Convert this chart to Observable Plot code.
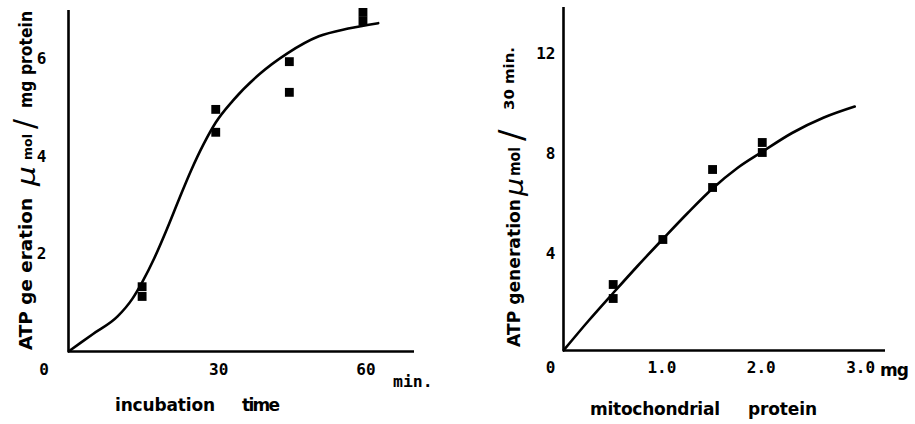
<!DOCTYPE html>
<html>
<head>
<meta charset="utf-8">
<script src="https://cdn.jsdelivr.net/npm/d3@7"></script>
<script src="https://cdn.jsdelivr.net/npm/@observablehq/plot@0.6"></script>
<style>
  html, body { margin: 0; padding: 0; background: #fff; }
  #wrap { position: relative; width: 915px; height: 424px; overflow: hidden; }
  #wrap svg { position: absolute; top: 0; }
</style>
</head>
<body>
<div id="wrap"></div>
<script>
// ---- Left panel: ATP generation vs incubation time ----
const timeMin   = [15, 15, 30, 30, 45, 45, 60, 60];
const atpTime   = [1.33, 1.13, 4.97, 4.5, 5.95, 5.32, 6.96, 6.78];
const curveTimeX = [0, 5, 10, 13, 15, 17.5, 20, 22.5, 25, 27.5, 30, 33.5, 39, 44.6, 51, 57, 63.1];
const curveTimeY = [0, 0.36, 0.72, 1.08, 1.42, 1.92, 2.5, 3.12, 3.72, 4.25, 4.7, 5.15, 5.7, 6.12, 6.47, 6.63, 6.74];
const timeTicks = [30, 60];
const atpTimeTicks = [2, 4, 6];

// ---- Right panel: ATP generation vs mitochondrial protein ----
const proteinMg = [0.5, 0.5, 1.0, 1.5, 1.5, 2.0, 2.0];
const atpProt   = [2.64, 2.08, 4.44, 7.24, 6.52, 8.32, 7.92];
const curveProtX = [0, 0.25, 0.5, 0.75, 1.0, 1.25, 1.5, 1.75, 2.0, 2.3, 2.62, 2.93];
const curveProtY = [0, 1.18, 2.3, 3.4, 4.46, 5.5, 6.48, 7.3, 7.95, 8.7, 9.32, 9.76];
const protTicks = [1, 2, 3];
const atpProtTicks = [4, 8, 12];

const SANS = "'DejaVu Sans', sans-serif";
const MONO = "'DejaVu Sans Mono', monospace";

const pts = (xs, ys) => xs.map((x, i) => ({x, y: ys[i]}));

const axisStyle = {fontFamily: MONO, fontSize: "16px", fontWeight: "bold", background: "transparent", color: "#000", overflow: "visible"};

// Left plot
const left = Plot.plot({
  width: 457, height: 424,
  marginLeft: 68, marginRight: 43, marginTop: 10, marginBottom: 73,
  style: axisStyle,
  x: {domain: [0, 70.5]},
  y: {domain: [0, 7]},
  marks: [
    Plot.ruleY([0], {stroke: "#000", strokeWidth: 2.6}),
    Plot.ruleX([0], {stroke: "#000", strokeWidth: 2.6}),
    Plot.axisX({ticks: timeTicks, tickFormat: d => String(d), tickSize: 0, tickPadding: 12, dx: 3, label: null}),
    Plot.text([0], {x: d => d, y: () => 0, text: d => String(d), lineAnchor: "top", dy: 12, dx: -24.5}),
    Plot.axisY({ticks: atpTimeTicks, tickFormat: d => String(d), tickSize: 0, tickPadding: 22, label: null}),
    Plot.line(pts(curveTimeX, curveTimeY), {x: "x", y: "y", curve: "monotone-x", stroke: "#000", strokeWidth: 2.6}),
    Plot.dot(pts(timeMin, atpTime), {x: "x", y: "y", symbol: "square", r: 5, fill: "#000", stroke: "none"})
  ]
});
left.style.left = "0px";

// Right plot
const right = Plot.plot({
  width: 458, height: 424,
  marginLeft: 106, marginRight: 30, marginTop: 7, marginBottom: 74,
  style: axisStyle,
  x: {domain: [0, 3.24]},
  y: {domain: [0, 13.72]},
  marks: [
    Plot.ruleY([0], {stroke: "#000", strokeWidth: 2.6}),
    Plot.ruleX([0], {stroke: "#000", strokeWidth: 2.6}),
    Plot.axisX({ticks: protTicks, tickFormat: d3.format(".1f"), tickSize: 0, tickPadding: 11.5, dx: -1, label: null}),
    Plot.text([0], {x: d => d, y: () => 0, text: d => String(d), lineAnchor: "top", dy: 11.5, dx: -13}),
    Plot.axisY({ticks: atpProtTicks, tickFormat: d => String(d), tickSize: 0, tickPadding: 8, dy: 3, label: null}),
    Plot.line(pts(curveProtX, curveProtY), {x: "x", y: "y", curve: "monotone-x", stroke: "#000", strokeWidth: 2.6}),
    Plot.dot(pts(proteinMg, atpProt), {x: "x", y: "y", symbol: "square", r: 5, fill: "#000", stroke: "none"})
  ]
});
right.style.left = "457px";

const wrap = document.getElementById("wrap");
wrap.appendChild(left);
wrap.appendChild(right);

// ---- Text labels ----
function addText(svg, x, y, str, opts = {}) {
  const t = d3.select(svg).append("text")
    .attr("x", x).attr("y", y)
    .attr("text-anchor", "start")
    .attr("font-family", opts.family || SANS)
    .attr("font-size", opts.size || 17)
    .attr("font-weight", "bold")
    .attr("fill", "#000")
    .text(str);
  if (opts.len) t.attr("textLength", opts.len).attr("lengthAdjust", "spacing");
  return t;
}

// rotated y label: parts given as [text, startPageY, endPageY, fontSize, shift, weight, style]
function addYLabel(svg, baseX, parts) {
  const g = d3.select(svg).append("g").attr("transform", `translate(${baseX},0) rotate(-90)`);
  for (const [s, y0, y1, size, shift, weight, fstyle] of parts) {
    const t = g.append("text")
      .attr("x", -y0).attr("y", shift || 0)
      .attr("text-anchor", "start")
      .attr("font-family", SANS)
      .attr("font-size", size)
      .attr("font-weight", weight || "bold")
      .attr("font-style", fstyle || "normal")
      .attr("fill", "#000")
      .text(s);
    if (y1 != null) t.attr("textLength", y0 - y1).attr("lengthAdjust", "spacingAndGlyphs");
  }
}

// Left panel texts
addText(left, 393, 387, "min.", {family: MONO, size: 16.5});
addText(left, 115, 411, "incubation", {size: 17, len: 100});
addText(left, 242, 411, "time", {size: 17, len: 38});
addYLabel(left, 32, [
  ["ATP ge eration", 350, 198, 17.5, 0],
  ["μ", 186, 166, 24, 3, "normal", "italic"],
  ["mol", 160, 134, 13, 0],
  ["/", 129, null, 30, 3, "normal"],
  ["mg protein", 108, 11, 17, 0]
]);

// Right panel texts (local coords = page - 457)
addText(right, 880 - 457, 376, "mg", {size: 17, len: 29});
addText(right, 590 - 457, 415, "mitochondrial", {size: 17, len: 130});
addText(right, 748 - 457, 415, "protein", {size: 17, len: 69});
addYLabel(right, 520 - 457, [
  ["ATP generation", 347, 199, 18, 0],
  ["μ", 196, 178, 24, 3, "normal", "italic"],
  ["mol", 176, 147, 15, 0],
  ["/", 141, null, 34, 3, "normal"],
  ["30 min.", 110, 47, 14, -6]
]);
</script>
</body>
</html>
